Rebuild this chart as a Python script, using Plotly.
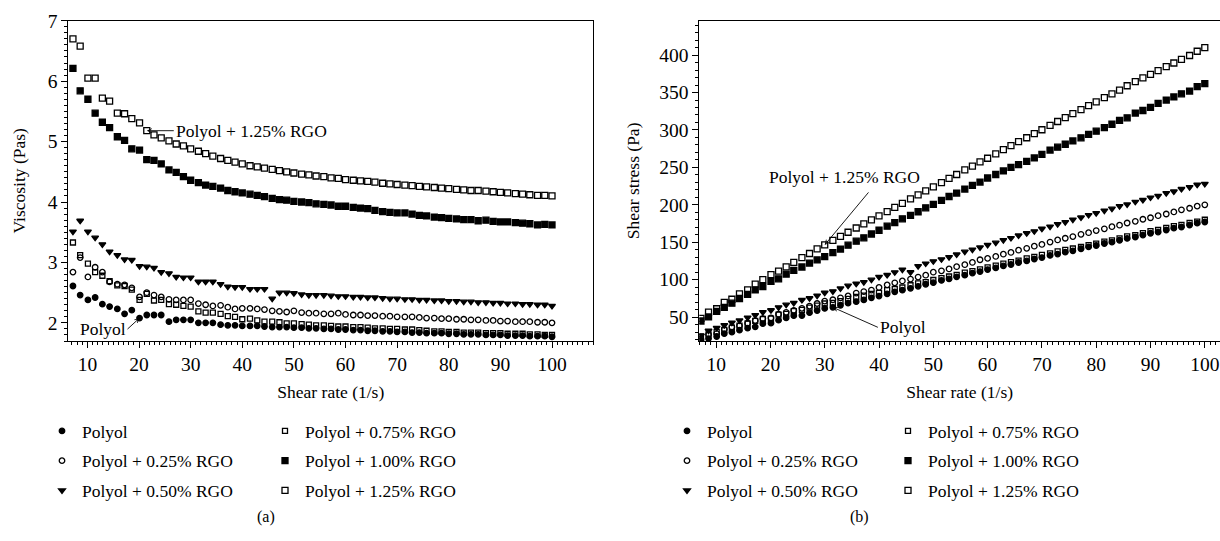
import plotly.graph_objects as go

# ---------------- data ----------------
shear_rate = [7.2, 8.6, 10.1, 11.5, 12.9, 14.3, 15.8, 17.2, 18.6, 20.1,
              21.5, 22.9, 24.3, 25.8, 27.2, 28.6, 30.0, 31.5, 32.9, 34.3,
              35.8, 37.2, 38.6, 40.0, 41.5, 42.9, 44.3, 45.8, 47.2, 48.6,
              50.0, 51.5, 52.9, 54.3, 55.8, 57.2, 58.6, 60.0, 61.5, 62.9,
              64.3, 65.7, 67.2, 68.6, 70.0, 71.5, 72.9, 74.3, 75.7, 77.2,
              78.6, 80.0, 81.5, 82.9, 84.3, 85.7, 87.2, 88.6, 90.0, 91.4,
              92.9, 94.3, 95.7, 97.2, 98.6, 100.0]

series_names = ["Polyol", "Polyol + 0.25% RGO", "Polyol + 0.50% RGO",
                "Polyol + 0.75% RGO", "Polyol + 1.00% RGO", "Polyol + 1.25% RGO"]

visc_polyol = [2.61, 2.46, 2.38, 2.42, 2.31, 2.27, 2.23, 2.15, 2.21, 2.08,
               2.13, 2.13, 2.13, 2.02, 2.05, 2.05, 2.05, 2.00, 2.00, 2.00,
               1.97, 1.96, 1.96, 1.95, 1.95, 1.95, 1.94, 1.93, 1.93, 1.93,
               1.92, 1.92, 1.91, 1.91, 1.90, 1.90, 1.89, 1.89, 1.88, 1.88,
               1.87, 1.87, 1.86, 1.86, 1.85, 1.85, 1.84, 1.84, 1.83, 1.83,
               1.83, 1.82, 1.82, 1.81, 1.81, 1.81, 1.80, 1.80, 1.80, 1.79,
               1.79, 1.79, 1.78, 1.78, 1.78, 1.77]
visc_025 = [2.84, 3.08, 2.76, 2.92, 2.84, 2.68, 2.64, 2.63, 2.58, 2.43,
            2.50, 2.46, 2.43, 2.39, 2.38, 2.38, 2.38, 2.32, 2.30, 2.28,
            2.29, 2.26, 2.23, 2.24, 2.24, 2.23, 2.22, 2.20, 2.19, 2.18,
            2.20, 2.17, 2.16, 2.16, 2.15, 2.15, 2.16, 2.14, 2.13, 2.13,
            2.12, 2.12, 2.11, 2.11, 2.10, 2.10, 2.10, 2.09, 2.08, 2.08,
            2.07, 2.07, 2.06, 2.06, 2.05, 2.05, 2.04, 2.04, 2.03, 2.03,
            2.02, 2.02, 2.02, 2.01, 2.01, 2.00]
visc_050 = [3.51, 3.69, 3.51, 3.41, 3.30, 3.18, 3.12, 3.05, 3.04, 2.94,
            2.93, 2.91, 2.84, 2.82, 2.76, 2.75, 2.75, 2.68, 2.68, 2.68,
            2.64, 2.60, 2.59, 2.59, 2.56, 2.56, 2.56, 2.40, 2.50, 2.50,
            2.49, 2.47, 2.46, 2.46, 2.46, 2.45, 2.44, 2.44, 2.43, 2.43,
            2.42, 2.42, 2.41, 2.40, 2.40, 2.39, 2.39, 2.38, 2.38, 2.37,
            2.37, 2.36, 2.36, 2.35, 2.35, 2.34, 2.34, 2.33, 2.33, 2.32,
            2.32, 2.31, 2.31, 2.30, 2.30, 2.28]
visc_075 = [3.33, 3.12, 2.98, 2.84, 2.78, 2.69, 2.62, 2.61, 2.55, 2.38,
            2.48, 2.37, 2.38, 2.31, 2.30, 2.28, 2.27, 2.19, 2.17, 2.17,
            2.15, 2.11, 2.10, 2.06, 2.07, 2.04, 2.02, 2.02, 2.01, 1.99,
            1.99, 1.98, 1.97, 1.96, 1.96, 1.95, 1.94, 1.94, 1.93, 1.93,
            1.92, 1.91, 1.91, 1.90, 1.90, 1.89, 1.89, 1.88, 1.87, 1.86,
            1.86, 1.85, 1.85, 1.84, 1.84, 1.84, 1.83, 1.83, 1.83, 1.82,
            1.82, 1.82, 1.81, 1.81, 1.80, 1.80]
visc_100 = [6.21, 5.84, 5.70, 5.47, 5.32, 5.23, 5.08, 5.02, 4.88, 4.86,
            4.70, 4.69, 4.63, 4.53, 4.49, 4.42, 4.36, 4.32, 4.28, 4.26,
            4.23, 4.19, 4.17, 4.15, 4.13, 4.11, 4.09, 4.06, 4.04, 4.03,
            4.01, 4.00, 3.99, 3.97, 3.96, 3.95, 3.93, 3.93, 3.91, 3.90,
            3.89, 3.86, 3.84, 3.83, 3.82, 3.82, 3.80, 3.78, 3.77, 3.75,
            3.74, 3.73, 3.72, 3.71, 3.71, 3.69, 3.70, 3.68, 3.67, 3.67,
            3.66, 3.65, 3.64, 3.62, 3.63, 3.62]
visc_125 = [6.70, 6.58, 6.05, 6.05, 5.72, 5.67, 5.47, 5.46, 5.38, 5.31,
            5.18, 5.11, 5.06, 5.01, 4.96, 4.93, 4.88, 4.84, 4.80, 4.76,
            4.72, 4.69, 4.66, 4.63, 4.60, 4.58, 4.56, 4.54, 4.52, 4.50,
            4.48, 4.46, 4.45, 4.43, 4.42, 4.40, 4.39, 4.37, 4.36, 4.35,
            4.34, 4.33, 4.31, 4.30, 4.29, 4.28, 4.27, 4.26, 4.25, 4.24,
            4.23, 4.22, 4.21, 4.20, 4.19, 4.19, 4.18, 4.17, 4.16, 4.15,
            4.14, 4.13, 4.12, 4.11, 4.11, 4.10]

stress_polyol = [18.8, 21.2, 24.0, 27.8, 29.8, 32.5, 35.2, 37.0, 41.1, 41.8,
                 45.8, 48.8, 51.8, 52.1, 55.8, 58.6, 61.5, 63.0, 65.8, 68.6,
                 70.5, 72.9, 75.7, 78.0, 80.9, 83.7, 85.9, 88.4, 91.1, 93.8,
                 96.0, 98.9, 101.0, 103.7, 106.0, 108.7, 110.8, 113.4, 115.6, 118.3,
                 120.2, 122.9, 125.0, 127.6, 129.5, 132.3, 134.1, 136.7, 138.5, 141.3,
                 143.8, 145.6, 148.3, 150.0, 152.6, 155.1, 157.0, 159.5, 162.0, 163.6,
                 166.3, 168.8, 170.3, 173.0, 175.5, 177.0]
stress_025 = [20.4, 26.5, 27.9, 33.6, 36.6, 38.3, 41.7, 45.2, 48.0, 48.8,
              53.8, 56.3, 59.0, 61.7, 64.7, 68.1, 71.4, 73.1, 75.7, 78.2,
              82.0, 84.1, 86.1, 89.6, 93.0, 95.7, 98.3, 100.8, 103.4, 105.9,
              110.0, 111.8, 114.3, 117.3, 120.0, 123.0, 126.6, 128.4, 131.0, 134.0,
              136.3, 139.3, 141.8, 144.7, 147.0, 150.2, 153.1, 155.3, 157.5, 160.6,
              162.7, 165.6, 167.9, 170.8, 172.8, 175.7, 177.9, 180.7, 182.7, 185.5,
              187.7, 190.5, 193.3, 195.4, 198.2, 200.0]
stress_050 = [25.3, 31.7, 35.5, 39.2, 42.6, 45.5, 49.3, 52.5, 56.5, 59.1,
              63.0, 66.6, 69.0, 72.8, 75.1, 78.7, 82.5, 84.4, 88.2, 91.9,
              94.5, 96.7, 100.0, 103.6, 106.2, 109.8, 113.4, 109.9, 118.0, 121.5,
              124.5, 127.2, 130.1, 133.6, 137.3, 140.1, 143.0, 146.4, 149.4, 152.8,
              155.6, 159.0, 162.0, 164.6, 168.0, 170.9, 174.2, 176.8, 180.2, 183.0,
              186.3, 188.8, 192.3, 194.8, 198.1, 200.5, 204.0, 206.4, 209.7, 212.0,
              215.5, 217.8, 221.1, 223.6, 226.8, 228.0]
stress_075 = [24.0, 26.8, 30.1, 32.7, 35.9, 38.5, 41.4, 44.9, 47.4, 47.8,
              53.3, 54.3, 57.8, 59.6, 62.6, 65.2, 68.1, 69.0, 71.4, 74.4,
              77.0, 78.5, 81.1, 82.4, 85.9, 87.5, 89.5, 92.5, 94.9, 96.7,
              99.5, 102.0, 104.2, 106.4, 109.4, 111.5, 113.7, 116.4, 118.7, 121.4,
              123.5, 125.5, 128.4, 130.3, 133.0, 135.1, 137.8, 139.7, 141.6, 143.6,
              146.2, 148.0, 150.8, 152.5, 155.1, 157.7, 159.6, 162.1, 164.7, 166.3,
              169.1, 171.6, 173.2, 175.9, 177.5, 180.0]
stress_100 = [44.7, 50.2, 57.6, 62.9, 68.6, 74.8, 80.3, 86.3, 90.8, 97.7,
              101.1, 107.4, 112.5, 116.9, 122.1, 126.4, 130.8, 136.1, 140.8, 146.1,
              151.4, 155.9, 161.0, 166.0, 171.4, 176.3, 181.2, 185.9, 190.7, 195.9,
              200.5, 206.0, 211.1, 215.6, 221.0, 225.9, 230.3, 235.8, 240.5, 245.3,
              250.1, 253.6, 258.0, 262.7, 267.4, 273.1, 277.0, 280.9, 285.4, 289.5,
              294.0, 298.4, 303.2, 307.6, 312.8, 316.2, 322.6, 326.0, 330.3, 335.4,
              340.0, 344.2, 348.3, 351.9, 357.9, 362.0]
stress_125 = [48.2, 56.6, 61.1, 69.6, 73.8, 81.1, 86.4, 93.9, 100.1, 106.7,
              111.4, 117.0, 123.0, 129.3, 134.9, 141.0, 146.4, 152.5, 157.9, 163.3,
              169.0, 174.5, 179.9, 185.2, 190.9, 196.5, 202.0, 207.9, 213.3, 218.7,
              224.0, 229.7, 235.4, 240.5, 246.6, 251.7, 257.3, 262.2, 268.1, 273.6,
              279.1, 284.5, 289.6, 295.0, 300.3, 306.0, 311.3, 316.5, 321.7, 327.3,
              332.5, 337.6, 343.1, 348.2, 353.2, 359.1, 364.5, 369.5, 374.4, 379.3,
              384.6, 389.5, 394.3, 399.5, 405.2, 410.0]

x_ticks = [10, 20, 30, 40, 50, 60, 70, 80, 90, 100]
visc_ticks = [2, 3, 4, 5, 6, 7]
stress_ticks = [50, 100, 150, 200, 250, 300, 350, 400]

viscosity = [visc_polyol, visc_025, visc_050, visc_075, visc_100, visc_125]
stress = [stress_polyol, stress_025, stress_050, stress_075, stress_100, stress_125]

# ---------------- styling ----------------
FONT = "Liberation Serif, Times New Roman, DejaVu Serif, serif"
symbols = ["circle", "circle-open", "triangle-down", "square-open", "square", "square-open"]
sizes = [5.5, 5.5, 6, 5, 6, 6]

fig = go.Figure()

for i, name in enumerate(series_names):
    lg_left = "legend" if i < 3 else "legend2"
    lg_right = "legend3" if i < 3 else "legend4"
    marker = dict(symbol=symbols[i], size=sizes[i], color="black",
                  line=dict(color="black", width=1.3))
    fig.add_trace(go.Scatter(x=shear_rate, y=viscosity[i], mode="markers", name=name,
                             marker=marker, xaxis="x", yaxis="y",
                             legend=lg_left, legendgroup="L%d" % i))
    fig.add_trace(go.Scatter(x=shear_rate, y=stress[i], mode="markers", name=name,
                             marker=marker, xaxis="x2", yaxis="y2",
                             legend=lg_right, legendgroup="R%d" % i))

W, H = 1220, 541
y_dom = [1 - 341 / H, 1 - 20.7 / H]

axis_common = dict(showline=True, linecolor="black", linewidth=1,
                   ticks="outside", ticklen=6, tickwidth=1, tickcolor="black",
                   showgrid=False, zeroline=False,
                   tickfont=dict(family=FONT, size=19.5, color="black"),
                   automargin=False)

fig.update_layout(
    width=W, height=H,
    margin=dict(l=0, r=0, t=0, b=0),
    paper_bgcolor="white", plot_bgcolor="white",
    font=dict(family=FONT, size=17.5, color="black"),
    xaxis=dict(domain=[68.3 / W, 593.3 / W], range=[6.3, 108], anchor="y",
               tickvals=x_ticks, mirror=True,
               minor=dict(dtick=1, tick0=0, ticks="outside", ticklen=3, tickcolor="black"),
               title=dict(text="Shear rate (1/s)", standoff=11,
                          font=dict(family=FONT, size=17.5)),
               **axis_common),
    yaxis=dict(domain=y_dom, range=[1.7, 7], anchor="x",
               tickvals=visc_ticks, mirror=True,
               minor=dict(dtick=0.1, tick0=0, ticks="outside", ticklen=3, tickcolor="black"),
               title=dict(text="Viscosity (Pas)", standoff=17,
                          font=dict(family=FONT, size=17.5)),
               **axis_common),
    xaxis2=dict(domain=[699.3 / W, 1.0], range=[6.9, 102.8], anchor="y2",
                tickvals=x_ticks, mirror=True,
                minor=dict(dtick=1, tick0=0, ticks="outside", ticklen=3, tickcolor="black"),
                title=dict(text="Shear rate (1/s)", standoff=11,
                           font=dict(family=FONT, size=17.5)),
                **axis_common),
    yaxis2=dict(domain=y_dom, range=[18, 446], anchor="x2",
                tickvals=stress_ticks, mirror=False,
                minor=dict(dtick=10, tick0=0, ticks="outside", ticklen=3, tickcolor="black"),
                title=dict(text="Shear stress (Pa)", standoff=15,
                           font=dict(family=FONT, size=17.5)),
                **axis_common),
    showlegend=True,
    hovermode=False,
)

legend_common = dict(xanchor="left", yanchor="top", bgcolor="rgba(0,0,0,0)",
                     font=dict(family=FONT, size=17.5, color="black"),
                     traceorder="grouped", tracegroupgap=4, itemclick=False,
                     itemdoubleclick=False, orientation="v")
ly = 1 - 413 / H
fig.update_layout(
    legend=dict(x=42 / W, y=ly, **legend_common),
    legend2=dict(x=265 / W, y=ly, **legend_common),
    legend3=dict(x=667 / W, y=ly, **legend_common),
    legend4=dict(x=888 / W, y=ly, **legend_common),
)

ann_font = dict(family=FONT, size=17.5, color="black")
arrow_style = dict(showarrow=True, arrowhead=5, arrowsize=0.9, arrowwidth=0.9,
                   arrowcolor="black")
annotations = [
    # left panel
    dict(x=shear_rate[10], y=visc_125[10], xref="x", yref="y", ax=27, ay=0,
         text="Polyol + 1.25% RGO", xanchor="left", yanchor="middle",
         font=ann_font, **arrow_style),
    dict(x=shear_rate[9], y=visc_polyol[9], xref="x", yref="y", ax=-12, ay=11,
         text="Polyol", xanchor="right", yanchor="middle",
         font=ann_font, **arrow_style),
    # right panel
    dict(x=shear_rate[16], y=stress_125[16], xref="x2", yref="y2", ax=45, ay=-54,
         text="", **arrow_style),
    dict(x=33.7, y=237, xref="x2", yref="y2", showarrow=False,
         text="Polyol + 1.25% RGO", xanchor="center", yanchor="middle", font=ann_font),
    dict(x=shear_rate[17], y=stress_polyol[17], xref="x2", yref="y2", ax=45, ay=20,
         text="Polyol", xanchor="left", yanchor="middle",
         font=ann_font, **arrow_style),
    # captions
    dict(x=255 / W, y=1 - 528 / H, xref="paper", yref="paper", showarrow=False,
         text="(a)", font=dict(family=FONT, size=16, color="black")),
    dict(x=871 / W, y=1 - 528 / H, xref="paper", yref="paper", showarrow=False,
         text="(b)", font=dict(family=FONT, size=16, color="black")),
]
fig.update_layout(annotations=annotations)

fig.write_html("out.html",
               config={"displayModeBar": False, "staticPlot": True},
               post_script="document.body.style.margin='0';document.body.style.overflow='hidden';")
